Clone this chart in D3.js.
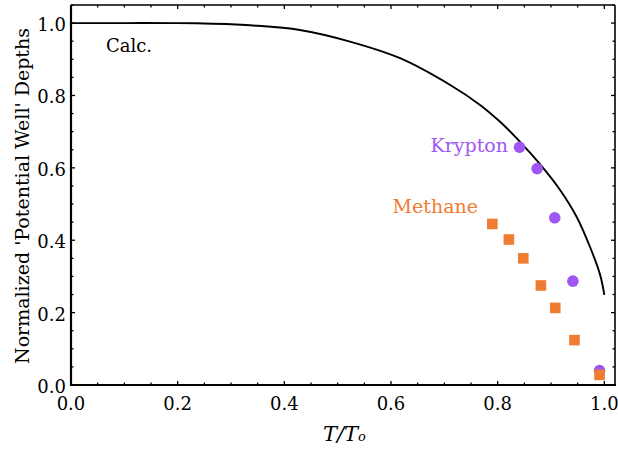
<!DOCTYPE html>
<html>
<head>
<meta charset="utf-8">
<script src="https://cdn.jsdelivr.net/npm/d3@7"></script>
<style>
  body { margin: 0; background: #fff; }
  text { font-family: "DejaVu Serif", serif; }
</style>
</head>
<body>
<script>
// calculated curve
var calcT = [0, 0.1, 0.2, 0.25, 0.3, 0.336, 0.429, 0.523, 0.617, 0.711, 0.767, 0.804, 0.842, 0.879, 0.917, 0.948, 0.973, 0.992, 1.0];
var calcV = [1, 1, 1, 0.999, 0.997, 0.994, 0.981, 0.949, 0.903, 0.829, 0.774, 0.728, 0.672, 0.611, 0.539, 0.465, 0.382, 0.305, 0.249];

// measured points
var kryptonT = [0.841, 0.874, 0.907, 0.941, 0.991];
var kryptonV = [0.657, 0.598, 0.462, 0.287, 0.040];
var methaneT = [0.790, 0.821, 0.848, 0.881, 0.908, 0.944, 0.991];
var methaneV = [0.445, 0.402, 0.350, 0.275, 0.213, 0.124, 0.028];

var xTicks = [0, 0.2, 0.4, 0.6, 0.8, 1.0];
var yTicks = [0, 0.2, 0.4, 0.6, 0.8, 1.0];

var width = 618, height = 450;
var pLeft = 71, pRight = 615, pTop = 5, pBottom = 385;

var svg = d3.select("body").append("svg")
    .attr("width", width)
    .attr("height", height);

var x = d3.scaleLinear().domain([0, 1.02]).range([pLeft, pRight]);
var y = d3.scaleLinear().domain([0, 1.05]).range([pBottom, pTop]);

var minorX = d3.range(0, 1.0001, 0.05);
var minorY = d3.range(0, 1.0501, 0.05);

// ticks, all pointing inward
function isMajor(v) { return Math.abs(v * 5 - Math.round(v * 5)) < 1e-6; }

var tickG = svg.append("g").attr("stroke", "black").attr("stroke-width", 1.3);
minorX.forEach(function(v) {
  var len = isMajor(v) ? 4 : 2.5;
  tickG.append("line").attr("x1", x(v)).attr("x2", x(v)).attr("y1", pBottom).attr("y2", pBottom - len);
  tickG.append("line").attr("x1", x(v)).attr("x2", x(v)).attr("y1", pTop).attr("y2", pTop + len);
});
minorY.forEach(function(v) {
  var len = isMajor(v) ? 4 : 2.5;
  tickG.append("line").attr("y1", y(v)).attr("y2", y(v)).attr("x1", pLeft).attr("x2", pLeft + len);
  tickG.append("line").attr("y1", y(v)).attr("y2", y(v)).attr("x1", pRight).attr("x2", pRight - len);
});

// frame
svg.append("line").attr("x1", pLeft).attr("x2", pRight).attr("y1", pTop).attr("y2", pTop)
    .attr("stroke", "black").attr("stroke-width", 1.6);
svg.append("line").attr("x1", pRight).attr("x2", pRight).attr("y1", pTop).attr("y2", pBottom)
    .attr("stroke", "black").attr("stroke-width", 1.6);
svg.append("line").attr("x1", pLeft).attr("x2", pRight + 1).attr("y1", pBottom).attr("y2", pBottom)
    .attr("stroke", "black").attr("stroke-width", 2.2);
svg.append("line").attr("x1", pLeft).attr("x2", pLeft).attr("y1", pTop).attr("y2", pBottom + 1)
    .attr("stroke", "black").attr("stroke-width", 2.2);

// tick labels
svg.selectAll(".xl").data(xTicks).enter().append("text")
    .attr("x", function(d) { return x(d); })
    .attr("y", 410)
    .attr("text-anchor", "middle")
    .attr("font-size", 18)
    .text(function(d) { return d.toFixed(1); });

svg.selectAll(".yl").data(yTicks).enter().append("text")
    .attr("x", 66)
    .attr("y", function(d) { return y(d) + 8; })
    .attr("text-anchor", "end")
    .attr("font-size", 18)
    .text(function(d) { return d.toFixed(1); });

// axis titles
svg.append("text")
    .attr("transform", "translate(29,196) rotate(-90)")
    .attr("text-anchor", "middle")
    .attr("font-size", 19)
    .text("Normalized 'Potential Well' Depths");

var xt = svg.append("text")
    .attr("x", 323)
    .attr("y", 441)
    .attr("font-size", 21)
    .attr("font-style", "italic");
xt.append("tspan").text("T/T");
xt.append("tspan").attr("font-size", 13).text("o");

// calculated curve
var line = d3.line()
    .x(function(d, i) { return x(calcT[i]); })
    .y(function(d) { return y(d); })
    .curve(d3.curveCatmullRom.alpha(0.5));

svg.append("path")
    .datum(calcV)
    .attr("d", line)
    .attr("fill", "none")
    .attr("stroke", "black")
    .attr("stroke-width", 1.9);

// krypton circles
svg.selectAll(".kr").data(kryptonV).enter().append("circle")
    .attr("cx", function(d, i) { return x(kryptonT[i]); })
    .attr("cy", function(d) { return y(d); })
    .attr("r", 5.8)
    .attr("fill", "#9e57f5");

// methane squares
var s = 10.6;
svg.selectAll(".me").data(methaneV).enter().append("rect")
    .attr("x", function(d, i) { return x(methaneT[i]) - s / 2; })
    .attr("y", function(d) { return y(d) - s / 2; })
    .attr("width", s)
    .attr("height", s)
    .attr("fill", "#ee7d32");

// labels
svg.append("text").attr("x", 106).attr("y", 52).attr("font-size", 18).text("Calc.");
svg.append("text").attr("x", 508).attr("y", 152).attr("text-anchor", "end")
    .attr("font-size", 19).attr("fill", "#9e57f5").text("Krypton");
svg.append("text").attr("x", 478).attr("y", 213).attr("text-anchor", "end")
    .attr("font-size", 19).attr("fill", "#ee7d32").text("Methane");
</script>
</body>
</html>
